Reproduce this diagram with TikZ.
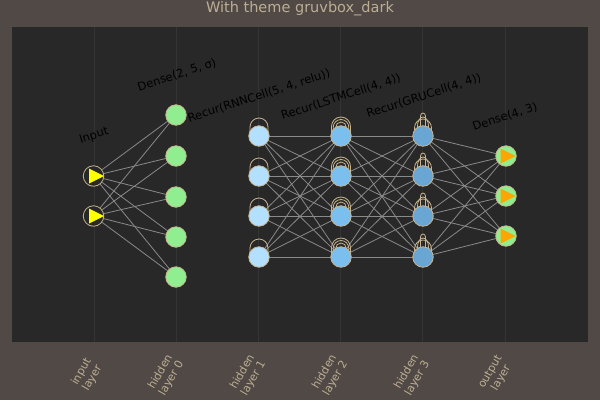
\documentclass[tikz,border=0pt]{standalone}
\usepackage{fontspec}
\setmainfont{DejaVu Sans}
\usetikzlibrary{calc}
\definecolor{outerbg}{HTML}{504945}
\definecolor{innerbg}{HTML}{282828}
\definecolor{gridc}{HTML}{343434}
\definecolor{fgtext}{HTML}{BDAE93}
\definecolor{edgec}{HTML}{8A8A8A}
\definecolor{ringc}{HTML}{C8B48E}
\definecolor{hzero}{HTML}{90EE90}
\definecolor{hone}{HTML}{B3E0FF}
\definecolor{htwo}{HTML}{7ABFEE}
\definecolor{hthree}{HTML}{6AA6D4}
\definecolor{trio}{HTML}{FFA500}
\definecolor{triy}{HTML}{FFFF00}
\pgfdeclarelayer{bglayer}
\pgfdeclarelayer{edgelayer}
\pgfsetlayers{bglayer,edgelayer,main}
\newcommand\selfloop[4]{%
  \draw[loopc] ($(#1.center)+(-#2,0)$) -- ++(0,-#4)
    arc[start angle=180,end angle=360,x radius=#2,y radius=#3] -- ++(0,#4);}
\begin{document}
\begin{tikzpicture}[x=1pt,y=-1pt,
  neuron/.style={circle, draw=ringc, line width=0.8pt, minimum size=20.5pt, inner sep=0pt},
  conn/.style={draw=edgec, line width=0.8pt},
  loopc/.style={draw=ringc, line width=0.8pt},
  layerlbl/.style={font=\fontsize{11.5}{13}\selectfont, text=black, rotate=18},
  ticklbl/.style={font=\fontsize{11}{12.5}\selectfont, text=fgtext, rotate=60, align=center},
  titlelbl/.style={font=\fontsize{14.5}{16}\selectfont, text=fgtext}
]
\useasboundingbox (0,0) rectangle (600,400);
\begin{pgfonlayer}{bglayer}
  \fill[outerbg] (0,0) rectangle (600,400);
  \fill[innerbg] (12,27) rectangle (588,342);
  \foreach \x in {94,176,258,340,422,505} \draw[gridc, line width=0.7pt] (\x,27) -- (\x,342);
\end{pgfonlayer}

% nodes
\node[neuron, fill=innerbg] (i1) at (93.5,176) {};
\node[neuron, fill=innerbg] (i2) at (93.5,216) {};
\foreach \y [count=\k] in {115,156,197,237,277}
  \node[neuron, fill=hzero] (a\k) at (176,\y) {};
\foreach \y [count=\k] in {136,176,216,257} {
  \node[neuron, fill=hone] (b\k) at (259,\y) {};
  \node[neuron, fill=htwo] (c\k) at (341,\y) {};
  \node[neuron, fill=hthree] (d\k) at (423,\y) {};
}
\foreach \y [count=\k] in {156,196,236}
  \node[neuron, fill=hzero] (o\k) at (506,\y) {};

% triangle markers
\foreach \n in {i1,i2}
  \fill[triy] ($(\n.center)+(-4.5,-7.5)$) -- ($(\n.center)+(-4.5,7.5)$) -- ($(\n.center)+(10.5,0)$) -- cycle;
\foreach \n in {o1,o2,o3}
  \fill[trio] ($(\n.center)+(-5.5,-7.5)$) -- ($(\n.center)+(-5.5,7.5)$) -- ($(\n.center)+(9.5,0)$) -- cycle;

% connectors and self loops
\begin{pgfonlayer}{edgelayer}
  \foreach \p in {1,2} \foreach \q in {1,...,5} \draw[conn] (i\p.center) -- (a\q.center);
  \foreach \p in {1,...,4} \foreach \q in {1,...,4} {
    \draw[conn] (b\p.center) -- (c\q.center);
    \draw[conn] (c\p.center) -- (d\q.center);
  }
  \foreach \p in {1,...,4} \foreach \q in {1,2,3} \draw[conn] (d\p.center) -- (o\q.center);
  \foreach \k in {1,...,4} {
    \selfloop{b\k}{9}{9}{9}
    \selfloop{c\k}{9.5}{9.5}{9.5}
    \selfloop{c\k}{7.8}{7.8}{8.7}
    \selfloop{c\k}{5.3}{5.3}{8.7}
    \selfloop{d\k}{8.5}{9}{8}
    \selfloop{d\k}{5.5}{9}{10}
    \selfloop{d\k}{2.5}{3}{20}
  }
\end{pgfonlayer}

% layer labels
\node[layerlbl] (lin) at (94,136) {Input};
\node[layerlbl] (lh0) at (177,75) {Dense(2, 5, σ)};
\node[layerlbl] (lh1) at (259,96) {Recur(RNNCell(5, 4, relu))};
\node[layerlbl] (lh2) at (341,97) {Recur(LSTMCell(4, 4))};
\node[layerlbl] (lh3) at (424,96) {Recur(GRUCell(4, 4))};
\node[layerlbl] (lout) at (505,117) {Dense(4, 3)};

% axis tick labels
\node[ticklbl] (t0) at (87,375) {input\\layer};
\node[ticklbl] (t1) at (166,375) {hidden\\layer 0};
\node[ticklbl] (t2) at (248,375) {hidden\\layer 1};
\node[ticklbl] (t3) at (330,375) {hidden\\layer 2};
\node[ticklbl] (t4) at (412,375) {hidden\\layer 3};
\node[ticklbl] (t5) at (496,375) {output\\layer};

\node[titlelbl] (title) at (300,9) {With theme gruvbox\_dark};
\end{tikzpicture}
\end{document}
